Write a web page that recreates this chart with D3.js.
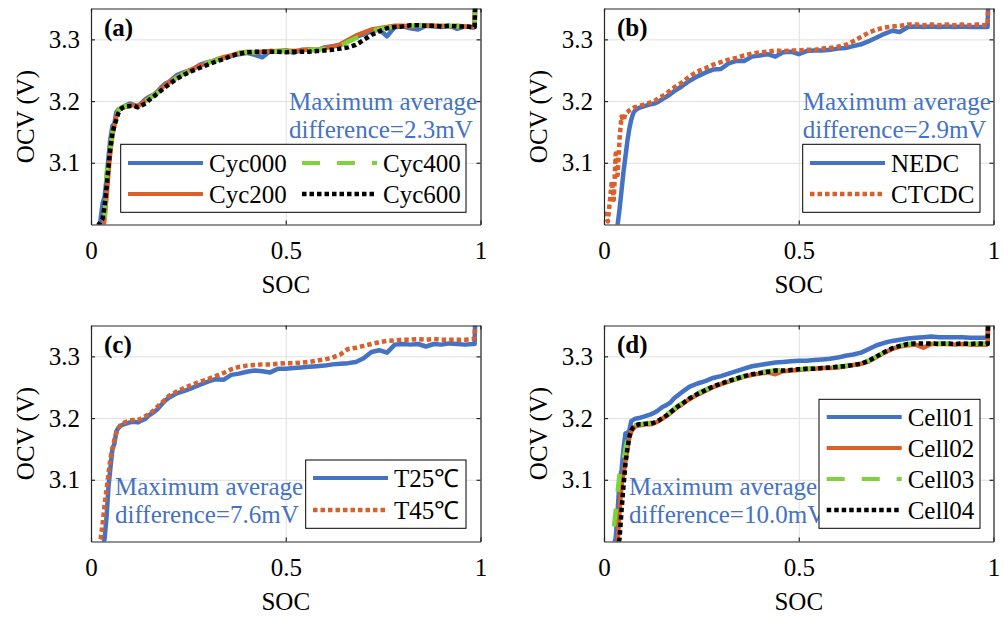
<!DOCTYPE html>
<html>
<head>
<meta charset="utf-8">
<script src="https://cdn.jsdelivr.net/npm/d3@7"></script>
<style>
  body { margin: 0; background: #fff; }
  text { font-family: "Times New Roman", "Liberation Serif", serif; }
</style>
</head>
<body>
<svg id="fig" width="1004" height="617"></svg>
<script>
// shared SOC grid, one OCV value per grid point
var soc = [0.00,0.01,0.02,0.025,0.03,0.035,0.04,0.045,0.05,0.055,
           0.06,0.065,0.07,0.075,0.08,0.09,0.10,0.11,0.12,0.13,
           0.14,0.15,0.16,0.17,0.18,0.19,0.20,0.22,0.24,0.26,
           0.28,0.30,0.32,0.34,0.36,0.38,0.40,0.42,0.44,0.46,
           0.48,0.50,0.52,0.54,0.56,0.58,0.60,0.62,0.64,0.66,
           0.68,0.70,0.72,0.74,0.76,0.78,0.80,0.82,0.84,0.86,
           0.88,0.90,0.92,0.94,0.96,0.98,0.985,0.986];

// (a) ageing
var cyc000 = [2.90,2.94,2.98,3.010,3.035,3.045,3.075,3.110,3.140,3.160,
              3.163,3.182,3.186,3.187,3.190,3.193,3.196,3.194,3.191,3.197,
              3.203,3.207,3.210,3.215,3.222,3.228,3.231,3.242,3.247,3.251,
              3.259,3.263,3.266,3.270,3.273,3.276,3.278,3.275,3.271,3.281,
              3.280,3.282,3.278,3.283,3.283,3.282,3.287,3.289,3.291,3.298,
              3.304,3.308,3.313,3.316,3.305,3.320,3.321,3.318,3.316,3.322,
              3.321,3.320,3.322,3.317,3.321,3.319,3.320,3.350];
var cyc200 = [2.88,2.91,2.94,2.96,2.985,3.010,3.045,3.085,3.120,3.145,
              3.160,3.175,3.185,3.188,3.189,3.191,3.194,3.193,3.192,3.196,
              3.201,3.205,3.209,3.214,3.220,3.226,3.230,3.239,3.246,3.252,
              3.257,3.262,3.267,3.271,3.274,3.278,3.280,3.279,3.280,3.281,
              3.281,3.282,3.281,3.282,3.284,3.283,3.286,3.288,3.292,3.299,
              3.306,3.311,3.316,3.318,3.320,3.322,3.322,3.321,3.322,3.323,
              3.322,3.322,3.321,3.322,3.321,3.320,3.321,3.350];
var cyc400 = [2.90,2.93,2.96,2.975,2.99,3.005,3.080,3.118,3.120,3.150,
              3.165,3.177,3.184,3.188,3.190,3.192,3.193,3.192,3.191,3.195,
              3.200,3.204,3.209,3.213,3.219,3.224,3.229,3.238,3.245,3.251,
              3.256,3.262,3.266,3.270,3.275,3.278,3.279,3.279,3.280,3.280,
              3.281,3.281,3.280,3.282,3.283,3.283,3.285,3.287,3.290,3.296,
              3.302,3.308,3.313,3.317,3.319,3.321,3.322,3.322,3.323,3.322,
              3.322,3.322,3.322,3.321,3.322,3.321,3.321,3.350];
var cyc600 = [2.95,2.98,3.000,3.005,3.010,3.030,3.060,3.095,3.125,3.148,
              3.160,3.170,3.180,3.186,3.189,3.191,3.192,3.192,3.190,3.193,
              3.196,3.202,3.207,3.212,3.217,3.222,3.227,3.236,3.243,3.249,
              3.254,3.259,3.264,3.268,3.273,3.277,3.279,3.280,3.280,3.280,
              3.280,3.279,3.280,3.280,3.280,3.281,3.282,3.283,3.285,3.287,
              3.291,3.299,3.307,3.313,3.318,3.320,3.321,3.323,3.323,3.322,
              3.322,3.321,3.322,3.321,3.321,3.320,3.320,3.350];

// (b) load profile
var nedc = [2.88,2.91,2.94,2.955,2.975,3.000,3.025,3.055,3.085,3.110,
            3.135,3.155,3.170,3.180,3.185,3.189,3.191,3.193,3.195,3.196,
            3.199,3.203,3.207,3.211,3.216,3.220,3.224,3.233,3.240,3.246,
            3.251,3.252,3.261,3.265,3.265,3.272,3.274,3.276,3.272,3.279,
            3.280,3.276,3.281,3.282,3.282,3.283,3.285,3.286,3.289,3.292,
            3.297,3.303,3.309,3.314,3.312,3.320,3.321,3.320,3.321,3.320,
            3.321,3.320,3.321,3.320,3.320,3.320,3.320,3.350];
var ctcdc = [3.020,3.005,3.070,3.040,3.115,3.080,3.140,3.175,3.168,3.180,
             3.182,3.185,3.187,3.189,3.190,3.192,3.194,3.196,3.198,3.200,
             3.205,3.208,3.212,3.217,3.222,3.226,3.230,3.240,3.248,3.253,
             3.259,3.263,3.267,3.270,3.274,3.277,3.279,3.280,3.282,3.281,
             3.282,3.282,3.283,3.283,3.285,3.286,3.288,3.291,3.297,3.304,
             3.311,3.316,3.319,3.321,3.322,3.324,3.324,3.323,3.324,3.323,
             3.324,3.323,3.324,3.323,3.324,3.323,3.323,3.350];

// (c) temperature
var t25 = [2.88,2.92,2.95,2.97,2.99,3.005,3.040,3.090,3.120,3.150,
           3.158,3.178,3.184,3.187,3.189,3.191,3.193,3.194,3.193,3.196,
           3.199,3.205,3.209,3.214,3.221,3.228,3.233,3.240,3.244,3.249,
           3.254,3.259,3.263,3.262,3.270,3.272,3.275,3.277,3.276,3.274,
           3.280,3.280,3.281,3.282,3.283,3.284,3.285,3.287,3.288,3.289,
           3.291,3.297,3.307,3.310,3.306,3.319,3.320,3.319,3.320,3.316,
           3.320,3.319,3.321,3.320,3.319,3.320,3.320,3.350];
var t45 = [2.92,2.95,2.995,3.005,3.030,3.060,3.085,3.110,3.135,3.150,
           3.165,3.176,3.183,3.188,3.191,3.194,3.196,3.197,3.197,3.199,
           3.203,3.207,3.212,3.218,3.224,3.230,3.236,3.243,3.249,3.254,
           3.259,3.263,3.268,3.273,3.279,3.283,3.285,3.286,3.287,3.287,
           3.288,3.289,3.289,3.290,3.291,3.293,3.295,3.298,3.303,3.312,
           3.314,3.317,3.320,3.323,3.325,3.326,3.327,3.327,3.328,3.327,
           3.328,3.327,3.327,3.327,3.327,3.328,3.330,3.350];

// (d) cell-to-cell
var cell01 = [2.92,2.95,2.98,2.995,3.005,3.050,3.100,3.115,3.150,3.175,
              3.176,3.180,3.195,3.197,3.199,3.200,3.202,3.204,3.206,3.209,
              3.213,3.218,3.221,3.225,3.232,3.237,3.242,3.251,3.256,3.260,
              3.265,3.268,3.272,3.276,3.280,3.284,3.286,3.288,3.290,3.291,
              3.292,3.293,3.293,3.294,3.295,3.296,3.298,3.301,3.303,3.306,
              3.312,3.318,3.322,3.325,3.327,3.329,3.330,3.331,3.332,3.331,
              3.331,3.331,3.331,3.330,3.330,3.330,3.330,3.350];
var cell02 = [2.88,2.91,2.94,2.96,2.98,2.995,3.050,3.090,3.110,3.130,
              3.150,3.168,3.178,3.183,3.186,3.188,3.189,3.190,3.190,3.192,
              3.195,3.199,3.203,3.208,3.213,3.218,3.222,3.231,3.238,3.244,
              3.250,3.255,3.259,3.263,3.267,3.270,3.272,3.274,3.271,3.276,
              3.277,3.278,3.279,3.280,3.281,3.281,3.282,3.284,3.286,3.288,
              3.292,3.299,3.306,3.312,3.316,3.318,3.319,3.314,3.320,3.320,
              3.320,3.319,3.320,3.319,3.319,3.319,3.320,3.350];
var cell03 = [2.97,2.995,3.010,3.020,3.050,3.080,3.110,3.128,3.132,3.150,
              3.165,3.175,3.182,3.186,3.188,3.190,3.191,3.192,3.192,3.194,
              3.197,3.201,3.205,3.210,3.215,3.220,3.224,3.233,3.240,3.246,
              3.251,3.256,3.260,3.264,3.268,3.271,3.274,3.276,3.277,3.278,
              3.279,3.279,3.280,3.281,3.282,3.282,3.283,3.285,3.287,3.289,
              3.293,3.300,3.307,3.313,3.317,3.320,3.321,3.321,3.321,3.321,
              3.321,3.321,3.321,3.320,3.321,3.321,3.321,3.350];
var cell04 = [2.88,2.91,2.94,2.96,2.975,2.99,3.005,3.050,3.090,3.125,
              3.150,3.170,3.180,3.185,3.188,3.190,3.190,3.191,3.191,3.193,
              3.196,3.200,3.204,3.209,3.214,3.219,3.223,3.232,3.239,3.245,
              3.251,3.256,3.260,3.264,3.268,3.271,3.273,3.275,3.277,3.277,
              3.278,3.279,3.280,3.280,3.281,3.282,3.283,3.284,3.286,3.288,
              3.293,3.300,3.307,3.313,3.317,3.320,3.321,3.321,3.321,3.320,
              3.321,3.320,3.321,3.320,3.321,3.320,3.320,3.350];

var xTicks = [0, 0.5, 1];
var yTicks = [3.1, 3.2, 3.3];
var xTickLabels = ["0", "0.5", "1"];

var BLUE = "#4472c4", ORANGE = "#d95f2b", GREEN = "#7ed23a", BLACK = "#000";
var solid = null, dashed = "18,17", dotted = "4.5,3";

var panels = [
  { tag: "(a)", left: 91, top: 8.5,
    series: [
      { name: "Cyc000", v: cyc000, color: BLUE, dash: solid },
      { name: "Cyc200", v: cyc200, color: ORANGE, dash: solid },
      { name: "Cyc400", v: cyc400, color: GREEN, dash: dashed },
      { name: "Cyc600", v: cyc600, color: BLACK, dash: dotted }],
    note: { x: 289, y: 110, lines: ["Maximum average", "difference=2.3mV"] },
    legend: { x: 120.7, y: 144.3, w: 345.3, h: 68,
      items: [[128, 163], [128, 194], [302, 163], [302, 194]] } },
  { tag: "(b)", left: 604, top: 8.5,
    series: [
      { name: "NEDC", v: nedc, color: BLUE, dash: solid },
      { name: "CTCDC", v: ctcdc, color: ORANGE, dash: dotted }],
    note: { x: 802.7, y: 110, lines: ["Maximum average", "difference=2.9mV"] },
    legend: { x: 802.7, y: 144.3, w: 177.3, h: 68,
      items: [[810, 163], [810, 194]] } },
  { tag: "(c)", left: 91, top: 325.5,
    series: [
      { name: "T25\u2103", v: t25, color: BLUE, dash: solid },
      { name: "T45\u2103", v: t45, color: ORANGE, dash: dotted }],
    note: { x: 115, y: 495, lines: ["Maximum average", "difference=7.6mV"] },
    legend: { x: 305.7, y: 460, w: 160.3, h: 68.3,
      items: [[313, 478], [313, 510]] } },
  { tag: "(d)", left: 604, top: 325.5,
    series: [
      { name: "Cell01", v: cell01, color: BLUE, dash: solid },
      { name: "Cell02", v: cell02, color: ORANGE, dash: solid },
      { name: "Cell03", v: cell03, color: GREEN, dash: dashed },
      { name: "Cell04", v: cell04, color: BLACK, dash: dotted }],
    note: { x: 629, y: 495, lines: ["Maximum average", "difference=10.0mV"] },
    legend: { x: 819, y: 399.3, w: 161, h: 129,
      items: [[826.7, 417], [826.7, 448], [826.7, 479], [826.7, 510]] } }
];

var W = 389.5, H = 216, FS = 25;
var svg = d3.select("#fig");

panels.forEach(function (p, pi) {
  var x = d3.scaleLinear().domain([0, 1]).range([0, W]);
  var y = d3.scaleLinear().domain([3.0, 3.35]).range([H, 0]);
  var g = svg.append("g").attr("transform", "translate(" + p.left + "," + p.top + ")");

  // grid
  g.append("g").attr("transform", "translate(0," + H + ")")
    .call(d3.axisBottom(x).tickValues(xTicks).tickSize(-H).tickFormat(""))
    .call(function (s) { s.select(".domain").remove(); s.selectAll("line").attr("stroke", "#dfdfdf").attr("stroke-width", 1); });
  g.append("g")
    .call(d3.axisLeft(y).tickValues(yTicks).tickSize(-W).tickFormat(""))
    .call(function (s) { s.select(".domain").remove(); s.selectAll("line").attr("stroke", "#dfdfdf").attr("stroke-width", 1); });

  // data
  var clipId = "clip" + pi;
  g.append("clipPath").attr("id", clipId).append("rect").attr("width", W).attr("height", H);
  var line = d3.line().x(function (d) { return x(d[0]); }).y(function (d) { return y(d[1]); });
  var dg = g.append("g").attr("clip-path", "url(#" + clipId + ")");
  p.series.forEach(function (s) {
    dg.append("path")
      .datum(soc.map(function (c, i) { return [c, s.v[i]]; }))
      .attr("d", line)
      .attr("fill", "none")
      .attr("stroke", s.color)
      .attr("stroke-width", 4.5)
      .attr("stroke-dasharray", s.dash)
      .attr("stroke-linejoin", "round");
  });

  // axes box
  var styleAxis = function (s) {
    s.select(".domain").attr("stroke", "#262626").attr("stroke-width", 1.2);
    s.selectAll(".tick line").attr("stroke", "#262626").attr("stroke-width", 1.2);
    s.selectAll("text").attr("font-size", FS).attr("fill", "#000")
      .style("font-family", '"Times New Roman","Liberation Serif",serif');
  };
  g.append("g").attr("transform", "translate(0," + H + ")")
    .call(d3.axisBottom(x).tickValues(xTicks).tickSize(-4).tickSizeOuter(0).tickPadding(17)
      .tickFormat(function (d, i) { return xTickLabels[i]; }))
    .call(styleAxis);
  g.append("g")
    .call(d3.axisLeft(y).tickValues(yTicks).tickSize(-4).tickSizeOuter(0).tickPadding(11).tickFormat(d3.format(".1f")))
    .call(styleAxis);
  g.append("g")
    .call(d3.axisTop(x).tickValues(xTicks).tickSize(-4).tickSizeOuter(0).tickFormat(""))
    .call(styleAxis);
  g.append("g").attr("transform", "translate(" + W + ",0)")
    .call(d3.axisRight(y).tickValues(yTicks).tickSize(-4).tickSizeOuter(0).tickFormat(""))
    .call(styleAxis);

  // axis titles
  g.append("text").attr("x", W / 2).attr("y", H + 68.5)
    .attr("text-anchor", "middle").attr("font-size", FS).text("SOC");
  g.append("text").attr("transform", "translate(-66," + (H / 2) + ") rotate(-90)")
    .attr("text-anchor", "middle").attr("dominant-baseline", "central")
    .attr("font-size", FS).text("OCV (V)");

  // panel tag
  g.append("text").attr("x", 13).attr("y", 27).attr("font-size", FS)
    .attr("font-weight", "bold").text(p.tag);

  // note
  var nt = svg.append("text").attr("font-size", FS).attr("fill", BLUE);
  p.note.lines.forEach(function (t, i) {
    nt.append("tspan").attr("x", p.note.x).attr("y", p.note.y + i * 28).text(t);
  });

  // legend
  var L = p.legend;
  svg.append("rect").attr("x", L.x).attr("y", L.y).attr("width", L.w).attr("height", L.h)
    .attr("fill", "#fff").attr("stroke", "#000").attr("stroke-width", 1);
  p.series.forEach(function (s, i) {
    var it = L.items[i];
    svg.append("line").attr("x1", it[0]).attr("x2", it[0] + 75)
      .attr("y1", it[1]).attr("y2", it[1])
      .attr("stroke", s.color).attr("stroke-width", s.dash === dotted ? 4.5 : 4)
      .attr("stroke-dasharray", s.dash);
    svg.append("text").attr("x", it[0] + 81).attr("y", it[1] + 9)
      .attr("font-size", FS).text(s.name);
  });
});
</script>
</body>
</html>
